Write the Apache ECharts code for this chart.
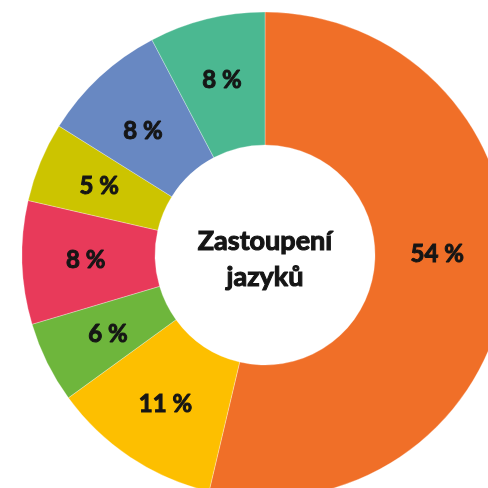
<!DOCTYPE html>
<html>
<head>
<meta charset="utf-8">
<script src="https://cdn.jsdelivr.net/npm/echarts@6/dist/echarts.min.js"></script>
<style>
  html, body { margin: 0; padding: 0; background: #fff; }
  #chart { width: 488px; height: 488px; }
</style>
</head>
<body>
<div id="chart"></div>
<script>
// podíly jazyků, popisky tak jak jsou v originále
const languages = ['A', 'B', 'C', 'D', 'E', 'F', 'G'];
const shares = [53.7, 11.3, 5.4, 8.2, 5.3, 8.4, 7.7];
const labels = ['54 %', '11 %', '6 %', '8 %', '5 %', '8 %', '8 %'];
const colors = ['#F06F28', '#FDBF00', '#6EB63C', '#E83A5A', '#CCC400', '#6888C2', '#4BB891'];
const centerText = 'Zastoupení\njazyků';

const myChart = echarts.init(document.getElementById('chart'), null, { renderer: 'canvas' });

// popisek 54 % a modrý 8 % nejsou v originále přesně uprostřed výseče
const labelShift = { 0: [-6, -22], 2: [4, 0], 5: [0, 8] };

const option = {
    animation: false,
    graphic: [
        {
            type: 'text',
            x: 265,
            y: 259,
            style: {
                text: centerText,
                textAlign: 'center',
                textVerticalAlign: 'middle',
                font: 'bold 27px Lato',
                lineHeight: 36,
                fill: '#151515',
                stroke: '#151515',
                lineWidth: 1.1
            }
        }
    ],
    series: [
        {
            type: 'pie',
            center: [265, 255],
            radius: [110, 243],
            startAngle: 90,
            clockwise: true,
            silent: true,
            itemStyle: {
                borderColor: 'rgba(255,255,255,0.6)',
                borderWidth: 0.5
            },
            label: {
                show: true,
                position: 'inside',
                formatter: (p) => labels[p.dataIndex],
                fontFamily: 'Lato',
                fontWeight: 'bold',
                fontSize: 24,
                color: '#151515',
                textBorderColor: '#151515',
                textBorderWidth: 1
            },
            labelLine: { show: false },
            data: shares.map((v, i) => ({
                name: languages[i],
                value: v,
                itemStyle: { color: colors[i] },
                label: labelShift[i] ? { offset: labelShift[i] } : undefined
            }))
        }
    ]
};

myChart.setOption(option);
</script>
</body>
</html>
